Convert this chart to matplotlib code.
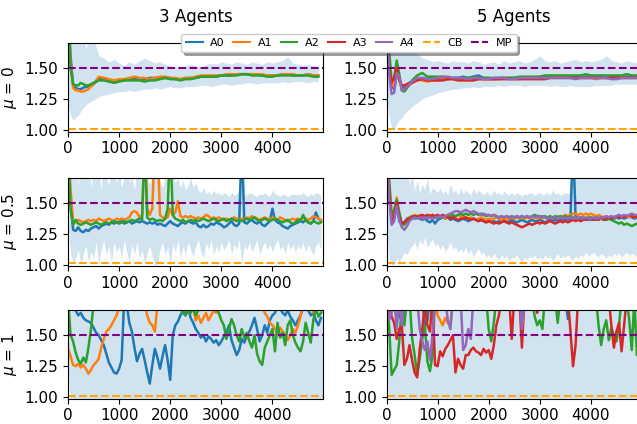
import numpy as np
import matplotlib
matplotlib.use("Agg")
import matplotlib.pyplot as plt
from matplotlib.lines import Line2D

# ---------------- data ----------------
# row 1 (mu = 0): step grid
steps_r1 = [0, 50, 100, 150, 200, 250, 300, 350, 400, 450] + list(range(500, 5000, 100))
# steps for rows 2 and 3
steps_50 = list(range(0, 5000, 50))

# 3 agents, mu = 0
r1L_A0 = [2.0,1.6,1.36,1.34,1.33,1.33,1.34,1.35,1.35,1.36,
          1.37,1.41,1.41,1.40,1.39, 1.40,1.40,1.41,1.41,1.41, 1.41,1.42,1.42,1.42,1.42,
          1.42,1.41,1.41,1.42,1.42, 1.42,1.43,1.43,1.43,1.43, 1.44,1.44,1.44,1.45,1.45,
          1.45,1.45,1.45,1.44,1.44, 1.44,1.44,1.45,1.45,1.44, 1.44,1.44,1.45,1.44,1.44]
r1L_A1 = [2.0,1.55,1.34,1.32,1.32,1.31,1.31,1.32,1.33,1.35,
          1.37,1.43,1.42,1.41,1.40, 1.41,1.41,1.42,1.43,1.42, 1.42,1.41,1.42,1.43,1.43,
          1.42,1.42,1.41,1.42,1.42, 1.43,1.44,1.44,1.44,1.44, 1.44,1.45,1.45,1.45,1.45,
          1.45,1.45,1.45,1.45,1.44, 1.44,1.44,1.45,1.45,1.45, 1.44,1.44,1.45,1.44,1.44]
r1L_A2 = [2.0,1.5,1.37,1.36,1.36,1.38,1.37,1.36,1.36,1.37,
          1.38,1.40,1.40,1.39,1.38, 1.39,1.40,1.40,1.40,1.40, 1.39,1.40,1.40,1.41,1.42,
          1.41,1.41,1.40,1.41,1.41, 1.42,1.43,1.43,1.43,1.43, 1.44,1.44,1.44,1.44,1.45,
          1.45,1.44,1.44,1.44,1.43, 1.43,1.44,1.44,1.44,1.44, 1.44,1.44,1.44,1.43,1.43]
r1L_hi = [2.0,2.0,1.9,1.75,1.8,1.7,1.8,1.65,1.75,1.7,
          1.75,1.6,1.58,1.55,1.57, 1.54,1.52,1.55,1.53,1.56, 1.58,1.56,1.54,1.55,1.53,
          1.52,1.51,1.50,1.52,1.53, 1.52,1.51,1.53,1.54,1.53, 1.55,1.54,1.53,1.55,1.54,
          1.53,1.55,1.54,1.53,1.55, 1.54,1.55,1.56,1.59,1.54, 1.53,1.52,1.53,1.52,1.51]
r1L_lo = [1.2,1.12,1.08,1.10,1.12,1.15,1.18,1.2,1.22,1.23,
          1.24,1.27,1.28,1.29,1.30, 1.31,1.31,1.32,1.31,1.32, 1.33,1.33,1.34,1.33,1.34,
          1.35,1.34,1.34,1.35,1.35, 1.35,1.36,1.36,1.35,1.36, 1.37,1.37,1.36,1.37,1.37,
          1.38,1.38,1.37,1.38,1.38, 1.38,1.38,1.39,1.38,1.39, 1.39,1.39,1.38,1.39,1.39]

# 5 agents, mu = 0
r1R_A0 = [2.0,1.6,1.35,1.33,1.45,1.42,1.35,1.34,1.36,1.38,
          1.39,1.41,1.42,1.41,1.42, 1.41,1.42,1.41,1.42,1.42, 1.43,1.42,1.43,1.44,1.42,
          1.42,1.41,1.42,1.42,1.42, 1.42,1.42,1.42,1.42,1.42, 1.43,1.43,1.43,1.43,1.43,
          1.43,1.43,1.43,1.43,1.43, 1.43,1.43,1.43,1.42,1.43, 1.43,1.43,1.43,1.43,1.43]
r1R_A1 = [2.0,1.55,1.37,1.35,1.48,1.40,1.33,1.32,1.34,1.36,
          1.38,1.41,1.40,1.39,1.40, 1.40,1.41,1.41,1.41,1.41, 1.41,1.40,1.41,1.41,1.41,
          1.41,1.41,1.41,1.42,1.42, 1.42,1.41,1.42,1.42,1.42, 1.42,1.42,1.42,1.43,1.43,
          1.43,1.42,1.42,1.42,1.42, 1.42,1.41,1.42,1.42,1.42, 1.42,1.42,1.42,1.42,1.42]
r1R_A2 = [2.0,1.65,1.40,1.42,1.56,1.45,1.32,1.31,1.34,1.37,
          1.40,1.44,1.46,1.43,1.43, 1.43,1.43,1.42,1.42,1.42, 1.42,1.42,1.43,1.42,1.42,
          1.42,1.42,1.42,1.42,1.42, 1.42,1.43,1.43,1.43,1.43, 1.43,1.44,1.44,1.44,1.44,
          1.44,1.44,1.44,1.44,1.45, 1.44,1.44,1.44,1.44,1.44, 1.44,1.44,1.45,1.44,1.44]
r1R_A3 = [2.0,1.5,1.38,1.42,1.50,1.40,1.36,1.36,1.37,1.38,
          1.38,1.40,1.41,1.40,1.40, 1.40,1.40,1.41,1.41,1.40, 1.40,1.40,1.40,1.41,1.41,
          1.41,1.41,1.41,1.41,1.41, 1.41,1.41,1.41,1.41,1.41, 1.41,1.41,1.42,1.42,1.42,
          1.42,1.42,1.42,1.42,1.42, 1.42,1.42,1.42,1.42,1.42, 1.42,1.42,1.42,1.42,1.42]
r1R_A4 = [2.0,1.45,1.29,1.30,1.46,1.43,1.32,1.33,1.35,1.37,
          1.39,1.42,1.42,1.41,1.41, 1.42,1.43,1.43,1.42,1.42, 1.42,1.41,1.42,1.42,1.41,
          1.41,1.42,1.42,1.42,1.41, 1.41,1.42,1.42,1.42,1.42, 1.42,1.42,1.42,1.42,1.42,
          1.42,1.42,1.41,1.42,1.42, 1.42,1.42,1.42,1.42,1.41, 1.41,1.42,1.42,1.42,1.42]
r1R_hi = [2.0,2.0,2.0,1.9,1.95,1.8,1.75,1.7,1.8,1.65,
          1.68,1.62,1.58,1.57,1.55, 1.56,1.55,1.54,1.56,1.55, 1.55,1.54,1.56,1.55,1.53,
          1.54,1.55,1.53,1.56,1.54, 1.55,1.56,1.54,1.55,1.57, 1.60,1.56,1.55,1.56,1.54,
          1.55,1.56,1.57,1.55,1.56, 1.55,1.56,1.57,1.60,1.56, 1.55,1.54,1.56,1.55,1.54]
r1R_lo = [1.3,1.1,1.02,1.0,1.05,1.08,1.1,1.13,1.15,1.17,
          1.19,1.22,1.25,1.27,1.28, 1.30,1.31,1.32,1.33,1.33, 1.34,1.34,1.35,1.34,1.35,
          1.35,1.35,1.36,1.35,1.36, 1.36,1.36,1.35,1.36,1.36, 1.36,1.36,1.35,1.36,1.35,
          1.35,1.36,1.35,1.35,1.35, 1.35,1.36,1.36,1.36,1.36, 1.37,1.37,1.37,1.37,1.37]

# 3 agents, mu = 0.5
r2L_A0 = [2.0,1.5,1.28,1.27,1.30,1.27,1.26,1.28,1.27,1.29,
          1.30,1.31,1.29,1.31,1.32,1.33,1.32,1.34,1.33,1.34,
          1.34,1.35,1.33,1.34,1.35,1.33,1.34,1.35,1.34,1.35,
          1.34,1.33,1.34,1.33,1.34,1.32,1.33,1.32,1.31,1.33,
          1.35,1.33,1.32,1.31,1.33,1.34,1.33,1.35,1.34,1.33,
          1.34,1.31,1.30,1.32,1.30,1.31,1.33,1.32,1.34,1.33,
          1.32,1.30,1.31,1.33,1.35,1.32,1.31,1.33,2.0,1.34,
          1.33,1.35,1.36,1.34,1.33,1.35,1.32,1.31,1.33,1.35,
          1.45,1.36,1.34,1.33,1.31,1.30,1.29,1.31,1.32,1.33,
          1.34,1.35,1.34,1.36,1.34,1.33,1.35,1.42,1.37,1.35]
r2L_A1 = [2.0,1.6,1.35,1.34,1.36,1.35,1.34,1.35,1.36,1.35,
          1.36,1.35,1.37,1.36,1.35,1.36,1.37,1.36,1.35,1.37,
          1.36,1.37,1.36,1.37,1.38,1.42,1.43,1.42,1.38,1.40,
          2.0,1.45,1.40,1.45,2.0,2.0,1.40,1.38,1.37,1.38,
          1.45,1.40,1.42,1.51,1.39,1.38,1.39,1.38,1.39,1.38,
          1.37,1.38,1.37,1.38,1.40,1.39,1.37,1.38,1.37,1.38,
          1.37,1.36,1.37,1.36,1.37,1.38,1.37,1.36,1.37,1.36,
          1.38,1.37,1.39,1.38,1.37,1.36,1.37,1.38,1.37,1.36,
          1.38,1.37,1.36,1.38,1.37,1.36,1.35,1.36,1.37,1.36,
          1.37,1.36,1.38,1.37,1.36,1.37,1.39,1.38,1.37,1.36]
r2L_A2 = [2.0,1.45,1.32,1.36,1.33,1.32,1.33,1.34,1.33,1.32,
          1.33,1.34,1.33,1.32,1.33,1.34,1.33,1.34,1.35,1.34,
          1.33,1.34,1.35,1.34,1.35,1.36,1.35,1.36,1.37,1.36,
          2.0,1.38,1.36,1.37,1.36,1.35,1.36,1.35,1.37,1.45,
          2.0,1.40,1.37,1.36,1.35,1.36,1.34,1.35,1.36,1.35,
          1.36,1.35,1.36,1.37,1.36,1.35,1.36,1.37,1.36,1.35,
          1.36,1.37,1.35,1.36,1.37,1.36,1.35,1.36,1.35,1.36,
          1.37,1.36,1.37,1.38,1.36,1.35,1.36,1.37,1.36,1.35,
          1.36,1.37,1.36,1.35,1.34,1.35,1.36,1.34,1.33,1.34,
          1.36,1.35,1.40,1.36,1.34,1.33,1.35,1.34,1.33,1.34]
r2L_hi = [2.0,2.0,1.9,1.8,1.65,1.9,1.75,1.7,1.85,1.62,
          1.8,1.68,1.75,1.6,1.9,1.7,1.64,1.8,1.72,1.66,
          1.75,1.62,1.7,1.85,1.66,1.72,1.6,1.8,1.7,1.65,
          2.0,1.7,1.65,1.75,2.0,2.0,1.68,1.62,1.7,1.75,
          2.0,1.72,1.66,1.7,1.62,1.68,1.6,1.64,1.7,1.62,
          1.66,1.6,1.58,1.62,1.57,1.59,1.56,1.6,1.57,1.58,
          1.56,1.58,1.57,1.55,1.58,1.56,1.57,1.59,2.0,1.57,
          1.56,1.58,1.57,1.56,1.55,1.57,1.56,1.58,1.56,1.55,
          1.6,1.57,1.56,1.55,1.57,1.56,1.55,1.56,1.57,1.56,
          1.57,1.56,1.58,1.56,1.55,1.57,1.56,1.58,1.57,1.56]
r2L_lo = [1.3,1.1,1.0,1.05,1.12,1.0,1.08,1.15,1.02,1.1,
          1.05,1.18,1.0,1.12,1.2,1.08,1.15,1.02,1.18,1.1,
          1.15,1.05,1.2,1.1,1.02,1.16,1.08,1.18,1.05,1.12,
          1.0,1.1,1.15,1.06,1.0,1.0,1.12,1.18,1.08,1.14,
          1.0,1.16,1.1,1.2,1.05,1.15,1.08,1.18,1.12,1.06,
          1.15,1.2,1.1,1.05,1.18,1.12,1.2,1.08,1.15,1.1,
          1.18,1.12,1.15,1.2,1.08,1.16,1.12,1.2,1.0,1.15,
          1.12,1.18,1.1,1.15,1.2,1.08,1.14,1.18,1.12,1.16,
          1.1,1.16,1.2,1.12,1.15,1.08,1.18,1.12,1.16,1.1,
          1.15,1.12,1.18,1.1,1.16,1.12,1.08,1.15,1.18,1.12]

# 5 agents, mu = 0.5
r2R_A0 = [2.0,1.6,1.36,1.40,1.48,1.35,1.32,1.34,1.37,1.38,
          1.38,1.37,1.38,1.37,1.36,1.37,1.35,1.34,1.36,1.33,
          1.36,1.37,1.38,1.37,1.38,1.36,1.37,1.36,1.35,1.36,
          1.37,1.36,1.35,1.36,1.37,1.36,1.35,1.36,1.35,1.34,
          1.35,1.36,1.35,1.34,1.35,1.36,1.35,1.34,1.35,1.36,
          1.35,1.34,1.35,1.36,1.35,1.34,1.35,1.36,1.35,1.35,
          1.36,1.35,1.34,1.35,1.36,1.35,1.36,1.35,1.36,1.36,
          1.37,1.36,1.37,2.0,1.38,1.37,1.38,1.37,1.36,1.37,
          1.36,1.37,1.36,1.37,1.38,1.37,1.36,1.37,1.38,1.37,
          1.38,1.37,1.38,1.37,1.38,1.39,1.38,1.37,1.38,1.37]
r2R_A1 = [2.0,1.65,1.38,1.42,1.54,1.40,1.31,1.33,1.36,1.38,
          1.39,1.40,1.39,1.40,1.39,1.38,1.39,1.40,1.39,1.38,
          1.38,1.39,1.38,1.37,1.38,1.39,1.38,1.39,1.40,1.39,
          1.39,1.38,1.37,1.38,1.37,1.36,1.37,1.38,1.37,1.36,
          1.37,1.36,1.37,1.38,1.37,1.36,1.37,1.36,1.37,1.38,
          1.37,1.38,1.37,1.38,1.37,1.38,1.37,1.38,1.38,1.37,
          1.38,1.37,1.38,1.37,1.38,1.37,1.38,1.39,1.38,1.39,
          1.40,1.39,1.40,1.41,1.41,1.40,1.41,1.40,1.41,1.40,
          1.41,1.40,1.39,1.40,1.39,1.38,1.39,1.38,1.39,1.38,
          1.39,1.38,1.39,1.38,1.39,1.38,1.39,1.38,1.39,1.38]
r2R_A2 = [2.0,1.7,1.40,1.44,1.52,1.42,1.33,1.32,1.35,1.37,
          1.39,1.38,1.39,1.38,1.37,1.38,1.37,1.38,1.39,1.38,
          1.38,1.39,1.38,1.39,1.40,1.39,1.40,1.39,1.40,1.41,
          1.40,1.41,1.40,1.41,1.40,1.41,1.40,1.41,1.40,1.39,
          1.40,1.39,1.40,1.39,1.38,1.39,1.38,1.39,1.38,1.39,
          1.38,1.39,1.38,1.39,1.38,1.39,1.38,1.39,1.40,1.39,
          1.39,1.38,1.39,1.38,1.39,1.38,1.39,1.38,1.39,1.38,
          1.39,1.38,1.39,1.38,1.37,1.38,1.37,1.38,1.37,1.38,
          1.38,1.37,1.38,1.37,1.38,1.37,1.36,1.37,1.36,1.35,
          1.34,1.33,1.34,1.32,1.33,1.32,1.31,1.32,1.33,1.32]
r2R_A3 = [2.0,1.6,1.35,1.38,1.50,1.38,1.33,1.34,1.36,1.37,
          1.38,1.39,1.38,1.39,1.40,1.39,1.40,1.39,1.40,1.39,
          1.40,1.39,1.40,1.39,1.38,1.37,1.38,1.37,1.36,1.37,
          1.37,1.38,1.37,1.36,1.37,1.36,1.35,1.36,1.35,1.34,
          1.35,1.34,1.33,1.34,1.33,1.34,1.35,1.34,1.33,1.34,
          1.33,1.32,1.31,1.30,1.31,1.32,1.33,1.32,1.33,1.34,
          1.33,1.34,1.33,1.34,1.35,1.34,1.33,1.34,1.35,1.34,
          1.35,1.34,1.35,1.36,1.35,1.36,1.35,1.36,1.37,1.36,
          1.37,1.36,1.37,1.36,1.37,1.36,1.37,1.38,1.37,1.38,
          1.39,1.38,1.39,1.38,1.39,1.40,1.39,1.38,1.39,1.38]
r2R_A4 = [2.0,1.55,1.32,1.35,1.47,1.36,1.30,1.28,1.31,1.35,
          1.37,1.38,1.37,1.38,1.37,1.38,1.37,1.38,1.37,1.38,
          1.38,1.39,1.38,1.39,1.40,1.41,1.42,1.43,1.43,1.42,
          1.43,1.44,1.43,1.42,1.43,1.42,1.41,1.40,1.41,1.40,
          1.40,1.39,1.40,1.39,1.38,1.39,1.38,1.39,1.38,1.39,
          1.38,1.39,1.38,1.39,1.38,1.39,1.38,1.39,1.38,1.39,
          1.38,1.39,1.38,1.37,1.38,1.37,1.38,1.37,1.38,1.37,
          1.38,1.37,1.38,1.37,1.38,1.37,1.38,1.37,1.38,1.37,
          1.37,1.38,1.37,1.38,1.37,1.38,1.39,1.38,1.39,1.38,
          1.39,1.40,1.39,1.40,1.39,1.40,1.41,1.40,1.40,1.39]
r2R_hi = [2.0,2.0,2.0,1.9,1.95,1.8,1.75,1.7,1.8,1.65,
          1.72,1.6,1.68,1.58,1.65,1.6,1.7,1.57,1.62,1.6,
          1.58,1.62,1.57,1.6,1.56,1.65,1.58,1.6,1.56,1.62,
          1.57,1.6,1.58,1.56,1.62,1.57,1.6,1.58,1.56,1.59,
          1.57,1.56,1.6,1.57,1.58,1.56,1.59,1.57,1.56,1.58,
          1.56,1.58,1.57,1.55,1.57,1.56,1.58,1.57,1.56,1.57,
          1.58,1.56,1.57,1.58,1.56,1.6,1.57,1.58,1.56,1.57,
          1.58,1.57,1.6,2.0,2.0,2.0,2.0,2.0,2.0,2.0,
          2.0,2.0,2.0,2.0,2.0,2.0,2.0,2.0,2.0,2.0,
          2.0,2.0,2.0,2.0,2.0,2.0,2.0,2.0,2.0,2.0]
r2R_lo = [1.3,1.05,1.0,1.0,1.05,1.02,1.06,1.1,1.08,1.12,
          1.15,1.18,1.12,1.2,1.16,1.22,1.14,1.18,1.2,1.15,
          1.17,1.12,1.16,1.1,1.14,1.18,1.12,1.15,1.1,1.13,
          1.1,1.14,1.08,1.12,1.06,1.1,1.13,1.08,1.1,1.06,
          1.08,1.05,1.09,1.06,1.04,1.08,1.05,1.07,1.03,1.06,
          1.05,1.08,1.04,1.02,1.06,1.04,1.07,1.05,1.08,1.04,
          1.06,1.04,1.08,1.05,1.07,1.03,1.06,1.09,1.05,1.07,
          1.06,1.08,1.05,1.04,1.07,1.05,1.08,1.06,1.1,1.07,
          1.08,1.1,1.07,1.06,1.09,1.07,1.05,1.08,1.06,1.09,
          1.07,1.09,1.06,1.08,1.1,1.07,1.09,1.08,1.06,1.08]

# 3 agents, mu = 1
r3L_A0 = [1.8,1.76,1.72,1.70,1.66,1.68,1.64,1.62,1.61,1.60,
          1.56,1.52,1.50,1.46,1.42,1.35,1.28,1.24,1.20,1.19,
          1.23,1.30,1.80,1.75,1.60,1.53,1.40,1.29,1.35,1.39,
          1.30,1.20,1.11,1.26,1.39,1.32,1.23,1.33,1.42,1.30,
          1.14,1.50,1.58,1.61,1.66,1.70,1.66,1.72,1.64,1.60,
          1.55,1.52,1.48,1.50,1.45,1.49,1.47,1.44,1.46,1.42,
          1.45,1.49,1.52,1.58,1.46,1.40,1.34,1.38,1.47,1.44,
          1.50,1.53,1.58,1.64,1.55,1.45,1.50,1.58,1.52,1.62,
          1.66,1.68,1.75,1.72,1.68,1.66,1.70,1.65,1.62,1.58,
          1.62,1.66,1.72,1.75,1.70,1.66,1.68,1.62,1.58,1.64]
r3L_A1 = [1.39,1.33,1.26,1.25,1.27,1.24,1.26,1.23,1.19,1.22,
          1.26,1.28,1.31,1.40,1.47,1.53,1.55,1.58,1.62,1.66,
          1.72,1.75,1.80,1.75,1.80,1.78,1.75,1.80,1.78,1.72,
          1.75,1.66,1.60,1.58,1.53,1.75,1.80,1.75,1.72,1.78,
          1.80,1.75,1.78,1.80,1.72,1.75,1.80,1.69,1.75,1.72,
          1.62,1.66,1.60,1.64,1.68,1.62,1.66,1.70,1.68,1.75,
          1.80,1.75,1.72,1.78,1.75,1.80,1.72,1.75,1.78,1.80,
          1.75,1.72,1.78,1.75,1.80,1.72,1.75,1.68,1.65,1.60,
          1.58,1.55,1.52,1.56,1.53,1.50,1.46,1.50,1.55,1.52,
          1.58,1.65,1.75,1.80,1.72,1.75,1.68,1.72,1.75,1.70]
r3L_A2 = [1.8,1.50,1.45,1.36,1.30,1.27,1.32,1.28,1.40,1.55,
          1.75,1.80,1.75,1.80,1.78,1.80,1.75,1.80,1.78,1.80,
          1.80,1.80,1.80,1.80,1.80,1.80,1.80,1.80,1.80,1.80,
          1.80,1.75,1.80,1.78,1.80,1.75,1.80,1.78,1.80,1.75,
          1.80,1.78,1.75,1.80,1.72,1.68,1.66,1.70,1.68,1.72,
          1.66,1.70,1.75,1.80,1.78,1.80,1.75,1.80,1.72,1.68,
          1.62,1.58,1.47,1.55,1.63,1.58,1.50,1.45,1.55,1.48,
          1.52,1.45,1.40,1.50,1.35,1.29,1.26,1.40,1.45,1.50,
          1.55,1.37,1.60,1.48,1.52,1.42,1.58,1.62,1.50,1.44,
          1.40,1.37,1.45,1.60,1.52,1.44,1.62,1.72,1.65,1.68]

# 5 agents, mu = 1
r3R_A0 = [1.8,1.8,1.8,1.8,1.8,1.66,1.62,1.65,1.8,1.8,
          1.8,1.8,1.8,1.8,1.8,1.58,1.62,1.8,1.8,1.8,
          1.8,1.8,1.8,1.8,1.8,1.8,1.8,1.8,1.8,1.8,
          1.8,1.8,1.8,1.8,1.8,1.8,1.8,1.8,1.8,1.8,
          1.8,1.8,1.8,1.8,1.8,1.8,1.8,1.8,1.8,1.8,
          1.8,1.8,1.8,1.8,1.8,1.8,1.8,1.8,1.8,1.8,
          1.8,1.8,1.8,1.8,1.8,1.8,1.8,1.8,1.8,1.8,
          1.8,1.63,1.8,1.8,1.8,1.8,1.8,1.8,1.8,1.8,
          1.8,1.8,1.8,1.8,1.8,1.8,1.8,1.8,1.8,1.8,
          1.8,1.8,1.8,1.8,1.8,1.8,1.8,1.8,1.8,1.8]
r3R_A1 = [1.8,1.68,1.8,1.8,1.8,1.8,1.8,1.8,1.8,1.8,
          1.8,1.8,1.8,1.8,1.8,1.8,1.8,1.8,1.8,1.8,
          1.66,1.62,1.58,1.64,1.60,1.58,1.8,1.8,1.8,1.8,
          1.8,1.8,1.8,1.8,1.8,1.8,1.8,1.8,1.8,1.8,
          1.8,1.8,1.8,1.8,1.8,1.8,1.8,1.8,1.8,1.8,
          1.8,1.8,1.8,1.8,1.8,1.8,1.8,1.8,1.8,1.8,
          1.8,1.8,1.8,1.8,1.8,1.8,1.8,1.8,1.8,1.8,
          1.8,1.8,1.8,1.8,1.8,1.8,1.8,1.8,1.8,1.8,
          1.8,1.8,1.8,1.8,1.8,1.8,1.8,1.8,1.8,1.8,
          1.8,1.8,1.8,1.8,1.8,1.8,1.8,1.8,1.8,1.8]
r3R_A2 = [1.8,1.58,1.18,1.22,1.26,1.45,1.75,1.58,1.8,1.8,
          1.48,1.34,1.18,1.31,1.47,1.58,1.29,1.21,1.34,1.8,
          1.8,1.75,1.8,1.8,1.8,1.8,1.8,1.8,1.8,1.8,
          1.8,1.8,1.8,1.8,1.8,1.8,1.8,1.8,1.8,1.8,
          1.55,1.45,1.60,1.8,1.8,1.8,1.8,1.8,1.8,1.8,
          1.8,1.8,1.8,1.8,1.8,1.8,1.8,1.8,1.65,1.58,
          1.62,1.55,1.8,1.8,1.8,1.8,1.8,1.60,1.8,1.8,
          1.8,1.8,1.8,1.8,1.8,1.8,1.8,1.8,1.8,1.8,
          1.8,1.8,1.8,1.58,1.42,1.55,1.62,1.46,1.56,1.50,
          1.45,1.58,1.8,1.8,1.8,1.62,1.38,1.8,1.34,1.45]
r3R_A3 = [1.8,1.75,1.65,1.6,1.47,1.55,1.58,1.26,1.31,1.42,
          1.30,1.20,1.16,1.39,1.55,1.75,1.58,1.53,1.8,1.26,
          1.25,1.37,1.33,1.39,1.42,1.46,1.50,1.20,1.31,1.26,
          1.23,1.34,1.34,1.38,1.40,1.37,1.36,1.34,1.39,1.36,
          1.38,1.31,1.42,1.58,1.66,1.8,1.8,1.8,1.8,1.47,
          1.8,1.75,1.8,1.40,1.8,1.8,1.8,1.8,1.8,1.68,
          1.8,1.8,1.8,1.8,1.8,1.8,1.8,1.8,1.8,1.8,
          1.8,1.8,1.53,1.25,1.42,1.8,1.8,1.8,1.8,1.8,
          1.8,1.8,1.8,1.8,1.8,1.8,1.8,1.8,1.58,1.40,
          1.53,1.60,1.37,1.58,1.8,1.8,1.8,1.8,1.8,1.8]
r3R_A4 = [1.8,1.62,1.68,1.8,1.55,1.8,1.58,1.8,1.8,1.8,
          1.8,1.8,1.8,1.55,1.45,1.38,1.45,1.30,1.50,1.8,
          1.8,1.8,1.8,1.8,1.62,1.55,1.8,1.8,1.8,1.8,
          1.38,1.42,1.55,1.47,1.8,1.8,1.8,1.8,1.8,1.8,
          1.8,1.8,1.8,1.8,1.8,1.8,1.8,1.8,1.8,1.8,
          1.8,1.8,1.8,1.55,1.8,1.8,1.8,1.8,1.8,1.8,
          1.8,1.8,1.8,1.8,1.8,1.8,1.8,1.8,1.8,1.8,
          1.8,1.8,1.8,1.8,1.8,1.8,1.8,1.8,1.8,1.8,
          1.8,1.8,1.8,1.8,1.8,1.8,1.8,1.8,1.8,1.8,
          1.8,1.8,1.8,1.8,1.8,1.8,1.8,1.8,1.8,1.8]
# band for mu = 1 (covers the whole axis)
steps_band3 = [0, 30, 60, 5000]
r3_lo = [1.25, 1.05, 0.9, 0.9]
r3_hi = [2.0, 2.0, 2.0, 2.0]

col_titles = ["3 Agents", "5 Agents"]
row_labels = [r"$\mu$ = 0", r"$\mu$ = 0.5", r"$\mu$ = 1"]
agent_names = ["A0", "A1", "A2", "A3", "A4"]
cb_value = 1.01
mp_value = 1.5

# ---------------- plot ----------------
W, H = 637, 424
fig = plt.figure(figsize=(W / 100, H / 100), dpi=100)

colors = ["C0", "C1", "C2", "C3", "C4"]
panels = [
    [(steps_r1, [r1L_A0, r1L_A1, r1L_A2], steps_r1, r1L_lo, r1L_hi),
     (steps_r1, [r1R_A0, r1R_A1, r1R_A2, r1R_A3, r1R_A4], steps_r1, r1R_lo, r1R_hi)],
    [(steps_50, [r2L_A0, r2L_A1, r2L_A2], steps_50, r2L_lo, r2L_hi),
     (steps_50, [r2R_A0, r2R_A1, r2R_A2, r2R_A3, r2R_A4], steps_50, r2R_lo, r2R_hi)],
    [(steps_50, [r3L_A0, r3L_A1, r3L_A2], steps_band3, r3_lo, r3_hi),
     (steps_50, [r3R_A0, r3R_A1, r3R_A2, r3R_A3, r3R_A4], steps_band3, r3_lo, r3_hi)],
]

lefts = [68 / W, 386.5 / W]
width = 255 / W
height = 88.3 / H
bottoms = [1 - 131.5 / H, 1 - 266 / H, 1 - 398.7 / H]

axes = []
for r in range(3):
    for c in range(2):
        ax = fig.add_axes([lefts[c], bottoms[r], width, height])
        xs, series, bx, blo, bhi = panels[r][c]
        ax.fill_between(bx, blo, bhi, color="C0", alpha=0.2, lw=0)
        for k, ys in enumerate(series):
            ax.plot(xs, ys, color=colors[k], lw=1.8)
        ax.axhline(cb_value, color="orange", ls="--", lw=1.5)
        ax.axhline(mp_value, color="purple", ls="--", lw=1.5)
        ax.set_xlim(0, 4990)
        ax.set_ylim(0.988, 1.70)
        ax.set_xticks([0, 1000, 2000, 3000, 4000])
        ax.set_yticks([1.0, 1.25, 1.5])
        ax.set_yticklabels(["1.00", "1.25", "1.50"])
        ax.tick_params(labelsize=11)
        if r == 0:
            ax.set_title(col_titles[c], fontsize=12, pad=15)
        if c == 0:
            ax.set_ylabel(row_labels[r], fontsize=11)
        axes.append(ax)

handles = [Line2D([], [], color=colors[k], lw=1.5) for k in range(5)]
handles += [Line2D([], [], color="orange", ls="--", lw=1.5),
            Line2D([], [], color="purple", ls="--", lw=1.5)]
labels = agent_names + ["CB", "MP"]
fig.legend(handles, labels, loc="center", bbox_to_anchor=(349 / W, 1 - 43 / H),
           ncol=7, fontsize=8, shadow=True, handlelength=1.5, columnspacing=0.75,
           handletextpad=0.7, borderpad=0.4)

fig.savefig("out.png", dpi=100)
